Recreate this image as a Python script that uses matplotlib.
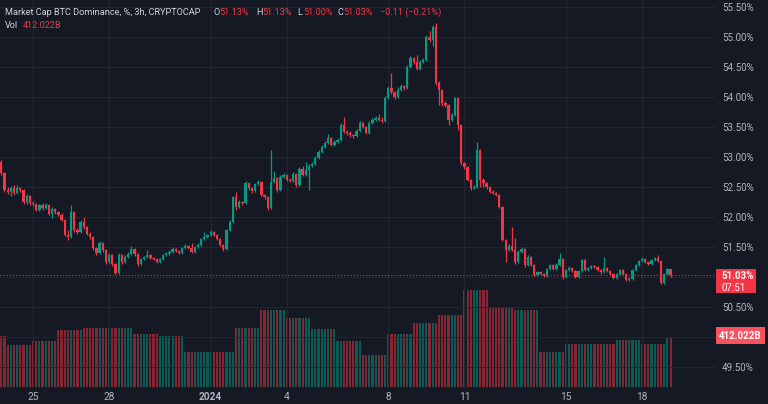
import matplotlib
matplotlib.use('Agg')
import matplotlib.pyplot as plt
import matplotlib.transforms as mtransforms
from matplotlib.patches import Rectangle
import numpy as np
import pandas as pd

plt.rcParams['font.family'] = ['Roboto', 'DejaVu Sans']

# ---------------- data ----------------
start_time = '2023-12-23 18:00'
first_open = 52.92
closes = [
    52.73, 52.45, 52.42, 52.48, 52.40, 52.48, 52.45, 52.25, 52.35, 52.23,
    52.22, 52.12, 52.20, 52.15, 52.20, 52.05, 52.13, 52.08, 52.04, 51.95,
    51.70, 51.67, 52.08, 51.78, 51.75, 51.92, 51.83, 51.72, 51.67, 51.48,
    51.40, 51.57, 51.45, 51.25, 51.37, 51.22, 51.07, 51.37, 51.25, 51.33,
    51.38, 51.47, 51.38, 51.22, 51.30, 51.33, 51.37, 51.32, 51.30, 51.25,
    51.30, 51.37, 51.40, 51.42, 51.47, 51.43, 51.40, 51.48, 51.52, 51.48,
    51.42, 51.50, 51.53, 51.63, 51.67, 51.70, 51.75, 51.70, 51.63, 51.53,
    51.47, 51.78, 51.92, 52.33, 52.17, 52.25, 52.23, 52.57, 52.48, 52.43,
    52.55, 52.58, 52.37, 52.33, 52.15, 52.58, 52.65, 52.45, 52.67, 52.70,
    52.62, 52.60, 52.72, 52.53, 52.80, 52.70, 52.78, 52.85, 52.88, 52.98,
    53.08, 53.17, 53.23, 53.32, 53.20, 53.25, 53.28, 53.53, 53.42, 53.40,
    53.37, 53.35, 53.43, 53.57, 53.50, 53.40, 53.57, 53.62, 53.65, 53.62,
    53.60, 53.98, 54.15, 54.08, 54.00, 54.12, 54.18, 54.15, 54.50, 54.65,
    54.58, 54.47, 54.58, 54.62, 55.00, 54.95, 55.17, 54.23, 54.12, 53.90,
    53.87, 53.62, 53.70, 53.98, 53.53, 52.90, 52.83, 52.62, 52.48, 52.50,
    53.12, 52.62, 52.57, 52.50, 52.42, 52.40, 52.37, 52.17, 51.62, 51.45,
    51.52, 51.45, 51.25, 51.42, 51.47, 51.20, 51.33, 51.20, 51.03, 51.08,
    51.05, 51.02, 51.13, 51.20, 51.13, 51.20, 51.30, 51.00, 51.12, 51.15,
    51.10, 51.00, 51.10, 51.28, 51.12, 51.15, 51.18, 51.17, 51.12, 51.08,
    51.15, 51.10, 51.05, 50.98, 51.05, 51.12, 51.05, 50.95, 50.97, 51.12,
    51.20, 51.27, 51.30, 51.25, 51.22, 51.28, 51.32, 51.27, 50.90, 51.05,
    51.13, 51.03,
]
highs = [
    52.95, 52.75, 52.50, 52.52, 52.53, 52.53, 52.50, 52.47, 52.38, 52.37,
    52.27, 52.24, 52.22, 52.23, 52.23, 52.22, 52.17, 52.15, 52.10, 52.06,
    51.97, 51.78, 52.20, 52.10, 51.82, 51.95, 52.00, 51.85, 51.75, 51.68,
    51.50, 51.60, 51.58, 51.47, 51.40, 51.38, 51.24, 51.40, 51.38, 51.36,
    51.42, 51.52, 51.48, 51.40, 51.32, 51.35, 51.45, 51.39, 51.34, 51.32,
    51.32, 51.39, 51.42, 51.45, 51.50, 51.49, 51.45, 51.50, 51.55, 51.54,
    51.57, 51.52, 51.56, 51.65, 51.75, 51.72, 51.78, 51.77, 51.72, 51.65,
    51.55, 51.80, 51.95, 52.35, 52.42, 52.28, 52.27, 52.60, 52.59, 52.50,
    52.57, 52.61, 52.60, 52.39, 52.35, 53.12, 52.77, 52.67, 52.70, 52.73,
    52.72, 52.65, 52.75, 52.74, 52.83, 52.85, 52.92, 52.88, 52.92, 53.01,
    53.11, 53.20, 53.26, 53.38, 53.34, 53.28, 53.31, 53.56, 53.67, 53.45,
    53.43, 53.39, 53.46, 53.60, 53.59, 53.52, 53.60, 53.65, 53.68, 53.72,
    53.66, 54.01, 54.18, 54.40, 54.10, 54.16, 54.21, 54.20, 54.53, 54.68,
    54.67, 54.70, 54.61, 54.65, 55.03, 55.10, 55.20, 55.23, 54.26, 54.14,
    53.93, 53.89, 53.73, 54.00, 54.00, 53.55, 52.92, 52.85, 52.64, 52.53,
    53.25, 53.14, 52.65, 52.59, 52.52, 52.45, 52.42, 52.39, 52.19, 51.64,
    51.55, 51.83, 51.65, 51.45, 51.50, 51.49, 51.36, 51.35, 51.22, 51.10,
    51.10, 51.07, 51.15, 51.22, 51.22, 51.23, 51.40, 51.32, 51.14, 51.18,
    51.17, 51.12, 51.12, 51.30, 51.30, 51.17, 51.20, 51.20, 51.19, 51.14,
    51.33, 51.17, 51.12, 51.07, 51.07, 51.14, 51.14, 51.07, 51.00, 51.14,
    51.22, 51.29, 51.33, 51.32, 51.27, 51.30, 51.34, 51.37, 51.29, 51.07,
    51.15, 51.13,
]
lows = [
    52.70, 52.42, 52.38, 52.35, 52.37, 52.38, 52.42, 52.22, 52.22, 52.20,
    52.18, 52.10, 52.10, 52.12, 52.13, 52.03, 51.98, 52.05, 52.02, 51.93,
    51.68, 51.62, 51.65, 51.75, 51.72, 51.73, 51.80, 51.70, 51.63, 51.45,
    51.37, 51.38, 51.42, 51.22, 51.23, 51.18, 51.05, 51.05, 51.22, 51.23,
    51.31, 51.36, 51.35, 51.18, 51.20, 51.28, 51.31, 51.30, 51.28, 51.23,
    51.23, 51.28, 51.35, 51.37, 51.40, 51.41, 51.38, 51.38, 51.46, 51.46,
    51.40, 51.40, 51.48, 51.51, 51.61, 51.65, 51.68, 51.68, 51.61, 51.51,
    51.44, 51.45, 51.76, 51.90, 52.12, 52.15, 52.20, 52.21, 52.45, 52.40,
    52.41, 52.53, 52.35, 52.30, 52.12, 52.13, 52.56, 52.42, 52.43, 52.65,
    52.60, 52.58, 52.58, 52.50, 52.51, 52.68, 52.68, 52.45, 52.83, 52.86,
    52.96, 53.06, 53.15, 53.21, 53.18, 53.18, 53.23, 53.26, 53.40, 53.37,
    53.33, 53.32, 53.33, 53.41, 53.48, 53.38, 53.38, 53.55, 53.60, 53.60,
    53.57, 53.58, 53.96, 54.05, 53.97, 53.98, 54.10, 54.12, 54.13, 54.48,
    54.55, 54.45, 54.45, 54.56, 54.60, 54.92, 54.85, 54.20, 53.87, 53.85,
    53.83, 53.53, 53.60, 53.68, 53.45, 52.87, 52.80, 52.60, 52.45, 52.46,
    52.48, 52.50, 52.50, 52.47, 52.40, 52.38, 52.35, 52.15, 51.60, 51.25,
    51.43, 51.43, 51.22, 51.23, 51.40, 51.17, 51.18, 51.18, 51.01, 51.01,
    51.03, 51.00, 51.00, 51.11, 51.11, 51.11, 51.18, 50.97, 50.98, 51.10,
    51.08, 50.98, 50.98, 51.08, 51.10, 51.10, 51.13, 51.15, 51.10, 51.05,
    51.06, 51.08, 51.03, 50.96, 50.96, 51.03, 51.03, 50.93, 50.93, 50.95,
    51.10, 51.18, 51.25, 51.23, 51.20, 51.20, 51.26, 51.25, 50.88, 50.88,
    51.03, 51.00,
]
# daily volume (billions), Dec 23 .. Jan 19
day_volumes = [420, 346, 379, 470, 484, 489, 437, 418, 285, 285,
               484, 636, 570, 476, 379, 263, 437, 526, 592, 802,
               650, 636, 288, 351, 351, 387, 350, 412.022]
tick_days = ['2023-12-25', '2023-12-28', '2024-01-01', '2024-01-04',
             '2024-01-08', '2024-01-11', '2024-01-15', '2024-01-18']
tick_labels = ['25', '28', '2024', '4', '8', '11', '15', '18']
price_ticks = [49.5, 50.0, 50.5, 51.0, 51.5, 52.0, 52.5, 53.0, 53.5, 54.0, 54.5, 55.0, 55.5]
price_tick_labels = ['49.50%', '', '50.50%', '', '51.50%', '52.00%', '52.50%', '53.00%',
                     '53.50%', '54.00%', '54.50%', '55.00%', '55.50%']
title_text = 'Market Cap BTC Dominance, %, 3h, CRYPTOCAP'
change_text = '\u22120.11 (\u22120.21%)'
countdown_text = '07:51'
volume_text = '412.022B'

# ---------------- styling ----------------
BG = '#151924'
UP = '#089981'
DOWN = '#F23645'
TXT = '#B2B5BE'
GRID = '#232734'
W, H = 768, 404

n = len(closes)
opens = [first_open] + closes[:-1]
times = pd.date_range(start_time, periods=n, freq='3h')
xs = np.arange(n)
o = np.array(opens); c = np.array(closes)
up = c >= o
colors = [UP if u else DOWN for u in up]
day_idx = (times.normalize() - times[0].normalize()).days
vols = np.array([day_volumes[d] for d in day_idx])

fig = plt.figure(figsize=(W / 100, H / 100), dpi=100, facecolor=BG)

xlim = (-0.41, 225.0)
# volume pane (behind)
axv = fig.add_axes([0, (H - 386.7) / H, 715 / W, 386.7 / H])
axv.set_facecolor('none')
axv.bar(xs, vols, width=0.68, color=colors, alpha=0.5, linewidth=0)
axv.set_xlim(*xlim)
axv.set_ylim(0, 3206)
axv.axis('off')

ax = fig.add_axes([0, (H - 388) / H, 715 / W, 388 / H])
ax.set_facecolor('none')
ax.set_xlim(*xlim)
ax.set_ylim(49.15, 55.617)
for s in ax.spines.values():
    s.set_visible(False)

# grid
for p in price_ticks:
    ax.axhline(p, color=GRID, lw=0.7, zorder=0)
tick_pos = [int(np.where(times == pd.Timestamp(d))[0][0]) for d in tick_days]
for tp in tick_pos:
    ax.axvline(tp, color=GRID, lw=0.7, zorder=0)

# candles
ax.vlines(xs, lows, highs, colors=colors, linewidth=0.9, zorder=2)
body_h = np.maximum(np.abs(c - o), 0.012)
ax.bar(xs, body_h, bottom=np.minimum(o, c), width=0.72, color=colors, linewidth=0, zorder=3)

# last price dotted line
ax.axhline(closes[-1], color=DOWN, lw=0.9, ls=(0, (1, 1.5)), alpha=0.75, zorder=1)

# axes ticks
ax.yaxis.tick_right()
ax.set_yticks(price_ticks)
ax.set_yticklabels(price_tick_labels)
ax.tick_params(axis='y', length=0, pad=5, labelcolor=TXT, labelsize=7)
ax.set_xticks(tick_pos)
ax.set_xticklabels(tick_labels)
ax.tick_params(axis='x', length=0, pad=3, labelcolor=TXT, labelsize=7.3)
for lab in ax.get_xticklabels():
    if lab.get_text() == '2024':
        lab.set_fontweight('bold')

# price tag
tr = mtransforms.blended_transform_factory(fig.transFigure, ax.transData)
last = closes[-1]
ax.add_patch(Rectangle((716 / W, last - 0.30), 40 / W, 0.40, transform=tr,
                       facecolor=DOWN, edgecolor='none', clip_on=False, zorder=10))
ax.text(721 / W, last - 0.01, f'{last:.2f}%', transform=tr, color='white', fontsize=7,
        fontweight='bold', va='center', ha='left', zorder=11, clip_on=False)
ax.text(721 / W, last - 0.21, countdown_text, transform=tr, color='white', fontsize=7,
        va='center', ha='left', zorder=11, clip_on=False)

# volume tag
trv = mtransforms.blended_transform_factory(fig.transFigure, axv.transData)
lv = vols[-1]
ax.add_patch(Rectangle((716 / W, lv - 7 * 8.29), 49 / W, 17 * 8.29, transform=trv,
                       facecolor='#F7525F', edgecolor='none', clip_on=False, zorder=10))
ax.text(740.5 / W, lv + 1.5 * 8.29, volume_text, transform=trv, color='white', fontsize=7,
        fontweight='bold', va='center', ha='center', zorder=11, clip_on=False)

# legend header
def fx(px):
    return px / W

def fy(py):
    return 1 - py / H

fs = 6.6
fig.text(fx(5), fy(12.5), title_text, color='#D1D4DC', fontsize=fs, va='center')
labels = [('O', 213, opens[-1]), ('H', 256, highs[-1]), ('L', 297, lows[-1]), ('C', 337, closes[-1])]
for letter, px, val in labels:
    fig.text(fx(px), fy(12.5), letter, color='#D1D4DC', fontsize=fs, va='center')
    fig.text(fx(px + 6), fy(12.5), f'{val:.2f}%', color=DOWN, fontsize=fs, va='center')
fig.text(fx(380), fy(12.5), change_text, color=DOWN, fontsize=fs, va='center')
fig.text(fx(5), fy(25.5), 'Vol', color='#D1D4DC', fontsize=fs, va='center')
fig.text(fx(23), fy(25.5), f'{day_volumes[-1]:.3f}B', color=DOWN, fontsize=fs, va='center')

fig.savefig('out.png', dpi=100, facecolor=BG)
